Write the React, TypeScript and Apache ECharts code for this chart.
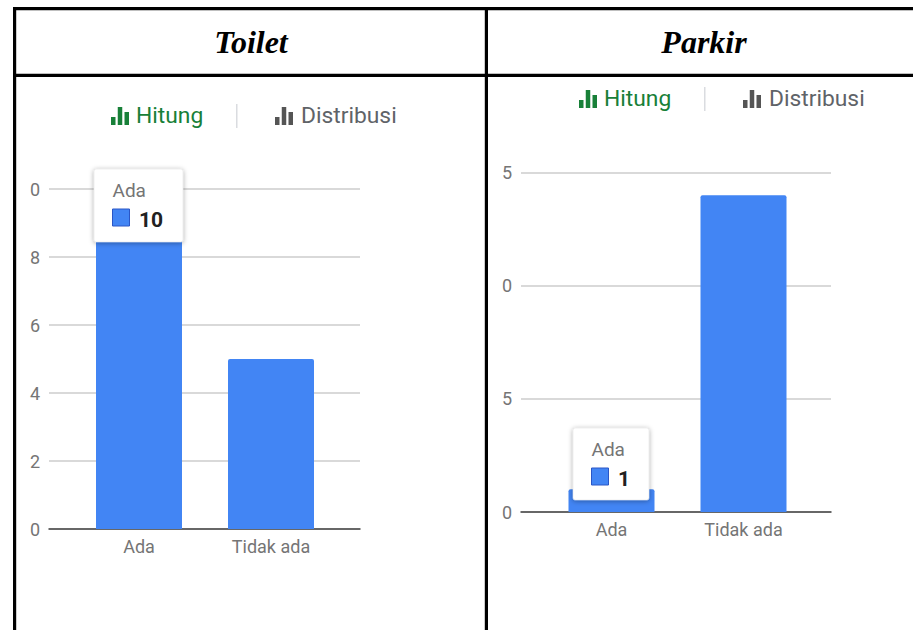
import React, { useEffect, useRef } from "react";
import * as echarts from "echarts";

const categories = ["Ada", "Tidak ada"];
const toiletValues = [10, 5];
const parkirValues = [1, 14];
const toiletTicks = ["0", "2", "4", "6", "8", "0"];
const parkirTicks = ["0", "5", "0", "5"];
const headers = ["Toilet", "Parkir"];
const tabs = ["Hitung", "Distribusi"];
const tipToilet = { label: "Ada", value: "10" };
const tipParkir = { label: "Ada", value: "1" };

const BLUE = "#4285f4";
const AXIS_TEXT = "#757575";
const UI = "Roboto";

function rect(x: number, y: number, w: number, h: number, fill: string, extra: any = {}) {
  return { type: "rect", shape: { x, y, width: w, height: h, ...(extra.shape || {}) }, style: { fill, ...(extra.style || {}) }, z: extra.z ?? 50, silent: true };
}
function text(t: string, x: number, y: number, font: string, fill: string, align = "left", z = 50) {
  return { type: "text", x, y, z, silent: true, style: { text: t, font, fill, textAlign: align, textVerticalAlign: "middle" } };
}
function icon(x: number, top: number, fill: string) {
  return [
    rect(x, top + 10, 4.5, 8, fill),
    rect(x + 6.75, top, 4.5, 18, fill),
    rect(x + 13.5, top + 5, 4.5, 13, fill),
  ];
}
function tabRow(iconX: number, divX: number, icon2X: number, top: number) {
  return [
    ...icon(iconX, top, "#188038"),
    text(tabs[0], iconX + 25, top + 8, `22.8px ${UI}`, "#188038"),
    rect(divX, top - 3, 1.5, 24, "#dadce0"),
    ...icon(icon2X, top, "#555555"),
    text(tabs[1], icon2X + 26, top + 8, `22.8px ${UI}`, "#5f6368"),
  ];
}
function tip(x: number, y: number, w: number, h: number, t: { label: string; value: string }) {
  return [
    {
      type: "rect", z: 100, silent: true,
      shape: { x, y, width: w, height: h, r: 2 },
      style: { fill: "#ffffff", stroke: "#dddddd", lineWidth: 0.5, shadowBlur: 5, shadowColor: "rgba(0,0,0,0.35)", shadowOffsetY: 1 },
    },
    text(t.label, x + 18.5, y + 21, `19px ${UI}`, "#757575", "left", 101),
    {
      type: "rect", z: 101, silent: true,
      shape: { x: x + 18.5, y: y + 40, width: 17, height: 17 },
      style: { fill: BLUE, stroke: "#2a56c6", lineWidth: 1 },
    },
    text(t.value, x + 45, y + 50.5, `bold 21px ${UI}`, "#212121", "left", 101),
  ];
}

export default function App() {
  const ref = useRef<HTMLDivElement>(null);
  useEffect(() => {
    document.body.style.margin = "0";
    const chart = echarts.init(ref.current!, undefined, { renderer: "svg" });
    const panels = [
      { left: 49, width: 311, top: 189, bottom: 529, barLeft: 73, max: 10, step: 2, ticks: toiletTicks, values: toiletValues },
      { left: 521, width: 310, top: 172.5, bottom: 512, barLeft: 545.5, max: 15, step: 5, ticks: parkirTicks, values: parkirValues },
    ];
    const grid: any[] = [];
    const xAxis: any[] = [];
    const yAxis: any[] = [];
    const series: any[] = [];
    panels.forEach((p) => {
      const backIdx = grid.length;
      const h = p.bottom - p.top;
      grid.push({ left: p.left, width: p.width, top: p.top, height: h });
      grid.push({ left: p.barLeft, width: 264, top: p.top, height: h });
      xAxis.push({
        gridIndex: backIdx, type: "value", min: 0, max: 1,
        axisLine: { show: true, lineStyle: { color: "#424242", width: 1.5 } },
        axisTick: { show: false }, axisLabel: { show: false }, splitLine: { show: false },
      });
      xAxis.push({
        gridIndex: backIdx + 1, type: "category", data: categories,
        axisLine: { show: false }, axisTick: { show: false },
        axisLabel: { color: AXIS_TEXT, fontFamily: UI, fontSize: 18, margin: 8 },
      });
      yAxis.push({
        gridIndex: backIdx, type: "value", min: 0, max: p.max, interval: p.step,
        axisLine: { show: false }, axisTick: { show: false },
        axisLabel: {
          color: AXIS_TEXT, fontFamily: UI, fontSize: 18, margin: 9, padding: [0, 0, 5, 0],
          formatter: (v: number) => p.ticks[Math.round(v / p.step)],
        },
        splitLine: { lineStyle: { color: "#cccccc", width: 1.5 } },
      });
      yAxis.push({ gridIndex: backIdx + 1, type: "value", min: 0, max: p.max, show: false });
      series.push({
        type: "bar", xAxisIndex: backIdx + 1, yAxisIndex: backIdx + 1,
        data: p.values, barWidth: 86,
        itemStyle: { color: BLUE, borderRadius: [2, 2, 0, 0] },
      });
    });
    chart.setOption({
      animation: false,
      tooltip: { show: false },
      grid, xAxis, yAxis, series,
      graphic: {
        elements: [
          rect(13, 7, 900, 3.2, "#000000"),
          rect(13, 73.8, 900, 3.2, "#000000"),
          rect(13, 7, 3.2, 623, "#000000"),
          rect(484.8, 7, 3.2, 623, "#000000"),
          text(headers[0], 251, 42, `italic bold 32px "Liberation Serif"`, "#000000", "center"),
          text(headers[1], 704, 42, `italic bold 32px "Liberation Serif"`, "#000000", "center"),
          ...tabRow(111, 236, 275, 107),
          ...tabRow(579, 704, 743, 90),
          ...tip(94, 169, 89, 73, tipToilet),
          ...tip(573, 428, 76, 72, tipParkir),
        ],
      },
    });
    return () => chart.dispose();
  }, []);
  return <div ref={ref} style={{ width: 913, height: 630, background: "#fff" }} />;
}
